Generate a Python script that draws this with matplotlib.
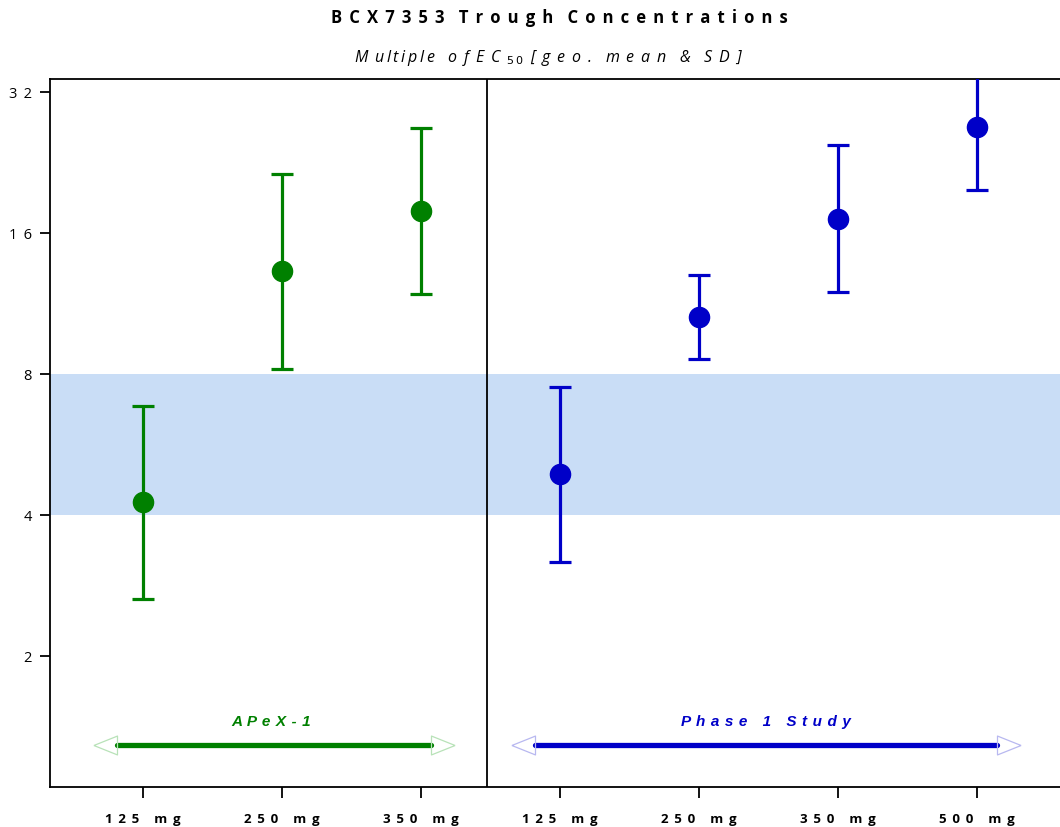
import matplotlib
matplotlib.use("Agg")
import matplotlib.pyplot as plt
import numpy as np
from matplotlib.ticker import FixedLocator, NullLocator

# data (multiple of EC50, geo. mean with SD range)
doses = ["125 mg", "250 mg", "350 mg", "125 mg", "250 mg", "350 mg", "500 mg"]
apex_mean = [4.26, 13.27, 17.8]
apex_low = [2.65, 8.2, 11.85]
apex_high = [6.84, 21.4, 26.8]
ph1_mean = [4.89, 10.59, 17.1, 26.9]
ph1_low = [3.18, 8.61, 11.97, 19.8]
ph1_high = [7.51, 13.0, 24.7, 36.7]
target_band = (4, 8)
y_ticks = [2, 4, 8, 16, 32]

GREEN = "#008000"
BLUE = "#0000c8"
FONT = ["Open Sans", "DejaVu Sans"]
SEP = " \u2006"


def spaced(s, sep=SEP):
    """ letter-spaced string like the original chart """
    return sep.join(s)


def group(ax, xs, mean, low, high, color):
    mean = np.array(mean)
    yerr = [mean - np.array(low), np.array(high) - mean]
    ax.errorbar(xs, mean, yerr=yerr, fmt="o", color=color, ms=14.5,
                elinewidth=2.3, capsize=8, capthick=2.3, zorder=4)


def span_arrow(ax, x0, x1, y, color, light, label, xlab, ylab):
    ax.plot([x0, x1], [y, y], color=color, lw=3.8, solid_capstyle="round", zorder=3)
    left = [(-1.2, 0), (0, 0.48), (0, -0.48), (-1.2, 0)]
    right = [(1.2, 0), (0, 0.48), (0, -0.48), (1.2, 0)]
    ax.plot([x0], [y], marker=left, ms=34, mfc="none", mec=light, mew=0.9, zorder=3)
    ax.plot([x1], [y], marker=right, ms=34, mfc="none", mec=light, mew=0.9, zorder=3)
    ax.text(xlab, ylab, label, color=color, fontsize=11, fontweight="bold",
            fontstyle="italic", family=["Liberation Sans", "DejaVu Sans"],
            ha="center", va="center")


fig = plt.figure(figsize=(10.6, 8.28), dpi=100)
ax = fig.add_axes([0.0472, 0.0483, 0.9528, 0.8551])
ax.set_yscale("log", base=2)
ax.set_ylim(1.05, 34.1)
ax.set_xlim(-0.669, 6.597)

ax.axhspan(target_band[0], target_band[1], color="#c9ddf6", lw=0, zorder=0)
ax.axvline(2.475, color="black", lw=1.3, zorder=2)

group(ax, [0, 1, 2], apex_mean, apex_low, apex_high, GREEN)
group(ax, [3, 4, 5, 6], ph1_mean, ph1_low, ph1_high, BLUE)

span_arrow(ax, -0.187, 2.072, 1.29, GREEN, "#b8e2b8", spaced("APeX-1", " \u200a"), 0.92, 1.45)
span_arrow(ax, 2.82, 6.144, 1.29, BLUE, "#b8b8f0", spaced("Phase 1 Study", " \u200a"), 4.48, 1.45)

ax.yaxis.set_major_locator(FixedLocator(y_ticks))
ax.yaxis.set_minor_locator(NullLocator())
ax.set_yticklabels([spaced(str(v)) for v in y_ticks], fontsize=10.5, family=FONT)
ax.set_xticks(range(len(doses)))
ax.set_xticklabels([spaced(d) for d in doses], fontsize=9.5, fontweight="bold",
                   family=FONT)
ax.tick_params(axis="x", length=8, width=1.3, pad=10)
ax.tick_params(axis="y", length=7, width=1.3, pad=6)
for side in ["left", "bottom", "top"]:
    ax.spines[side].set_linewidth(1.3)
ax.spines["right"].set_visible(False)

title = (spaced("BCX7353") + SEP + SEP + spaced("Trough") + SEP + SEP
         + spaced("Concentrations"))
fig.text(0.528, 0.978, title, fontsize=12, fontweight="bold", family=FONT,
         ha="center", va="center")
sub = ("M" + SEP + spaced("ultiple", "\u2006") + SEP + SEP + spaced("of") + SEP
       + spaced("EC") + SEP + "$_{5\\,0}$" + SEP + spaced("[geo.") + SEP + SEP
       + spaced("mean") + SEP + SEP + "&" + SEP + SEP + spaced("SD]"))
fig.text(0.518, 0.930, sub, fontsize=11.5, fontstyle="italic", family=FONT,
         ha="center", va="center")

fig.savefig("out.png", dpi=100)
